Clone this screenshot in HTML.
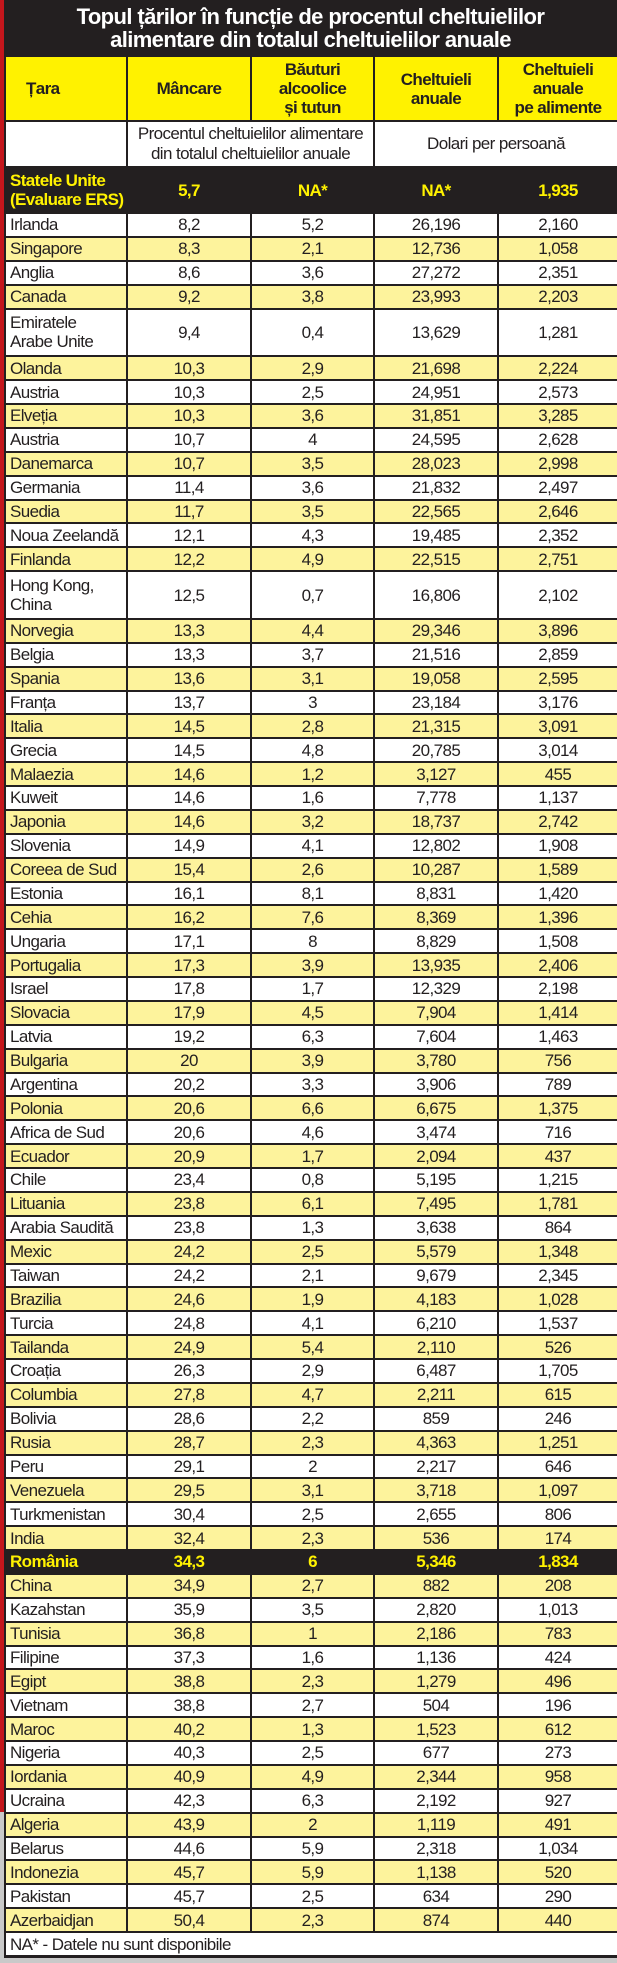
<!DOCTYPE html>
<html><head><meta charset="utf-8">
<style>
*{margin:0;padding:0;box-sizing:border-box}
body{width:617px;height:1963px;background:#c9c9c9;position:relative;overflow:hidden;font-family:"Liberation Sans Narrow","Liberation Sans",sans-serif}
#red{position:absolute;left:0;top:0;width:6px;height:1812px;background:#c4161c}
#wrap{position:absolute;left:4px;top:0;width:613px;height:1958px;background:#231f20}
#title{height:55px;color:#fff;text-align:center;font-weight:bold;font-size:22px;line-height:23px;padding-top:5px;letter-spacing:-0.6px}
table{border-collapse:collapse;table-layout:fixed;width:613px;position:absolute;top:55px;left:0}
td{border:2px solid #231f20;font-size:17px;color:#231f20;text-align:center;height:23.875px;line-height:19px;padding:0;background:#fff;white-space:nowrap;letter-spacing:-0.6px}
td:first-child{text-align:left;padding-left:4px}
tr.y td{background:#fdf39c}
tr.h td{background:#fff200;font-weight:bold;height:65px;line-height:19px;font-size:17px}
tr.h td:first-child{padding-left:20px}
tr.s td{height:46px;font-size:17px;line-height:20px}
tr.b td{background:#231f20;color:#fff200;font-weight:bold}
tr.d td{height:47.75px}
td.t{text-align:left;padding-left:4px;border-top:2px solid #231f20;height:24px}
</style></head><body>
<div id="red"></div>
<div id="wrap">
<div id="title">Topul țărilor în funcție de procentul cheltuielilor<br>alimentare din totalul cheltuielilor anuale</div>
<table>
<colgroup><col style="width:122px"><col style="width:124px"><col style="width:123px"><col style="width:124px"><col style="width:120px"></colgroup>
<tr class="h"><td>Țara</td><td>Mâncare</td><td>Băuturi<br>alcoolice<br>și tutun</td><td>Cheltuieli<br>anuale</td><td>Cheltuieli<br>anuale<br>pe alimente</td></tr>
<tr class="s"><td></td><td colspan="2">Procentul cheltuielilor alimentare<br>din totalul cheltuielilor anuale</td><td colspan="2">Dolari per persoană</td></tr>
<tr class="b" style="height:46px"><td style="height:46px">Statele Unite<br>(Evaluare ERS)</td><td>5,7</td><td>NA*</td><td>NA*</td><td>1,935</td></tr>
<tr><td>Irlanda</td><td>8,2</td><td>5,2</td><td>26,196</td><td>2,160</td></tr>
<tr class="y"><td>Singapore</td><td>8,3</td><td>2,1</td><td>12,736</td><td>1,058</td></tr>
<tr><td>Anglia</td><td>8,6</td><td>3,6</td><td>27,272</td><td>2,351</td></tr>
<tr class="y"><td>Canada</td><td>9,2</td><td>3,8</td><td>23,993</td><td>2,203</td></tr>
<tr class="d"><td>Emiratele<br>Arabe Unite</td><td>9,4</td><td>0,4</td><td>13,629</td><td>1,281</td></tr>
<tr class="y"><td>Olanda</td><td>10,3</td><td>2,9</td><td>21,698</td><td>2,224</td></tr>
<tr><td>Austria</td><td>10,3</td><td>2,5</td><td>24,951</td><td>2,573</td></tr>
<tr class="y"><td>Elveția</td><td>10,3</td><td>3,6</td><td>31,851</td><td>3,285</td></tr>
<tr><td>Austria</td><td>10,7</td><td>4</td><td>24,595</td><td>2,628</td></tr>
<tr class="y"><td>Danemarca</td><td>10,7</td><td>3,5</td><td>28,023</td><td>2,998</td></tr>
<tr><td>Germania</td><td>11,4</td><td>3,6</td><td>21,832</td><td>2,497</td></tr>
<tr class="y"><td>Suedia</td><td>11,7</td><td>3,5</td><td>22,565</td><td>2,646</td></tr>
<tr><td>Noua Zeelandă</td><td>12,1</td><td>4,3</td><td>19,485</td><td>2,352</td></tr>
<tr class="y"><td>Finlanda</td><td>12,2</td><td>4,9</td><td>22,515</td><td>2,751</td></tr>
<tr class="d"><td>Hong Kong,<br>China</td><td>12,5</td><td>0,7</td><td>16,806</td><td>2,102</td></tr>
<tr class="y"><td>Norvegia</td><td>13,3</td><td>4,4</td><td>29,346</td><td>3,896</td></tr>
<tr><td>Belgia</td><td>13,3</td><td>3,7</td><td>21,516</td><td>2,859</td></tr>
<tr class="y"><td>Spania</td><td>13,6</td><td>3,1</td><td>19,058</td><td>2,595</td></tr>
<tr><td>Franța</td><td>13,7</td><td>3</td><td>23,184</td><td>3,176</td></tr>
<tr class="y"><td>Italia</td><td>14,5</td><td>2,8</td><td>21,315</td><td>3,091</td></tr>
<tr><td>Grecia</td><td>14,5</td><td>4,8</td><td>20,785</td><td>3,014</td></tr>
<tr class="y"><td>Malaezia</td><td>14,6</td><td>1,2</td><td>3,127</td><td>455</td></tr>
<tr><td>Kuweit</td><td>14,6</td><td>1,6</td><td>7,778</td><td>1,137</td></tr>
<tr class="y"><td>Japonia</td><td>14,6</td><td>3,2</td><td>18,737</td><td>2,742</td></tr>
<tr><td>Slovenia</td><td>14,9</td><td>4,1</td><td>12,802</td><td>1,908</td></tr>
<tr class="y"><td>Coreea de Sud</td><td>15,4</td><td>2,6</td><td>10,287</td><td>1,589</td></tr>
<tr><td>Estonia</td><td>16,1</td><td>8,1</td><td>8,831</td><td>1,420</td></tr>
<tr class="y"><td>Cehia</td><td>16,2</td><td>7,6</td><td>8,369</td><td>1,396</td></tr>
<tr><td>Ungaria</td><td>17,1</td><td>8</td><td>8,829</td><td>1,508</td></tr>
<tr class="y"><td>Portugalia</td><td>17,3</td><td>3,9</td><td>13,935</td><td>2,406</td></tr>
<tr><td>Israel</td><td>17,8</td><td>1,7</td><td>12,329</td><td>2,198</td></tr>
<tr class="y"><td>Slovacia</td><td>17,9</td><td>4,5</td><td>7,904</td><td>1,414</td></tr>
<tr><td>Latvia</td><td>19,2</td><td>6,3</td><td>7,604</td><td>1,463</td></tr>
<tr class="y"><td>Bulgaria</td><td>20</td><td>3,9</td><td>3,780</td><td>756</td></tr>
<tr><td>Argentina</td><td>20,2</td><td>3,3</td><td>3,906</td><td>789</td></tr>
<tr class="y"><td>Polonia</td><td>20,6</td><td>6,6</td><td>6,675</td><td>1,375</td></tr>
<tr><td>Africa de Sud</td><td>20,6</td><td>4,6</td><td>3,474</td><td>716</td></tr>
<tr class="y"><td>Ecuador</td><td>20,9</td><td>1,7</td><td>2,094</td><td>437</td></tr>
<tr><td>Chile</td><td>23,4</td><td>0,8</td><td>5,195</td><td>1,215</td></tr>
<tr class="y"><td>Lituania</td><td>23,8</td><td>6,1</td><td>7,495</td><td>1,781</td></tr>
<tr><td>Arabia Saudită</td><td>23,8</td><td>1,3</td><td>3,638</td><td>864</td></tr>
<tr class="y"><td>Mexic</td><td>24,2</td><td>2,5</td><td>5,579</td><td>1,348</td></tr>
<tr><td>Taiwan</td><td>24,2</td><td>2,1</td><td>9,679</td><td>2,345</td></tr>
<tr class="y"><td>Brazilia</td><td>24,6</td><td>1,9</td><td>4,183</td><td>1,028</td></tr>
<tr><td>Turcia</td><td>24,8</td><td>4,1</td><td>6,210</td><td>1,537</td></tr>
<tr class="y"><td>Tailanda</td><td>24,9</td><td>5,4</td><td>2,110</td><td>526</td></tr>
<tr><td>Croația</td><td>26,3</td><td>2,9</td><td>6,487</td><td>1,705</td></tr>
<tr class="y"><td>Columbia</td><td>27,8</td><td>4,7</td><td>2,211</td><td>615</td></tr>
<tr><td>Bolivia</td><td>28,6</td><td>2,2</td><td>859</td><td>246</td></tr>
<tr class="y"><td>Rusia</td><td>28,7</td><td>2,3</td><td>4,363</td><td>1,251</td></tr>
<tr><td>Peru</td><td>29,1</td><td>2</td><td>2,217</td><td>646</td></tr>
<tr class="y"><td>Venezuela</td><td>29,5</td><td>3,1</td><td>3,718</td><td>1,097</td></tr>
<tr><td>Turkmenistan</td><td>30,4</td><td>2,5</td><td>2,655</td><td>806</td></tr>
<tr class="y"><td>India</td><td>32,4</td><td>2,3</td><td>536</td><td>174</td></tr>
<tr class="b"><td>România</td><td>34,3</td><td>6</td><td>5,346</td><td>1,834</td></tr>
<tr class="y"><td>China</td><td>34,9</td><td>2,7</td><td>882</td><td>208</td></tr>
<tr><td>Kazahstan</td><td>35,9</td><td>3,5</td><td>2,820</td><td>1,013</td></tr>
<tr class="y"><td>Tunisia</td><td>36,8</td><td>1</td><td>2,186</td><td>783</td></tr>
<tr><td>Filipine</td><td>37,3</td><td>1,6</td><td>1,136</td><td>424</td></tr>
<tr class="y"><td>Egipt</td><td>38,8</td><td>2,3</td><td>1,279</td><td>496</td></tr>
<tr><td>Vietnam</td><td>38,8</td><td>2,7</td><td>504</td><td>196</td></tr>
<tr class="y"><td>Maroc</td><td>40,2</td><td>1,3</td><td>1,523</td><td>612</td></tr>
<tr><td>Nigeria</td><td>40,3</td><td>2,5</td><td>677</td><td>273</td></tr>
<tr class="y"><td>Iordania</td><td>40,9</td><td>4,9</td><td>2,344</td><td>958</td></tr>
<tr><td>Ucraina</td><td>42,3</td><td>6,3</td><td>2,192</td><td>927</td></tr>
<tr class="y"><td>Algeria</td><td>43,9</td><td>2</td><td>1,119</td><td>491</td></tr>
<tr><td>Belarus</td><td>44,6</td><td>5,9</td><td>2,318</td><td>1,034</td></tr>
<tr class="y"><td>Indonezia</td><td>45,7</td><td>5,9</td><td>1,138</td><td>520</td></tr>
<tr><td>Pakistan</td><td>45,7</td><td>2,5</td><td>634</td><td>290</td></tr>
<tr class="y"><td>Azerbaidjan</td><td>50,4</td><td>2,3</td><td>874</td><td>440</td></tr>
<tr><td class="t" colspan="5">NA* - Datele nu sunt disponibile</td></tr>
</table>
</div>
</body></html>
